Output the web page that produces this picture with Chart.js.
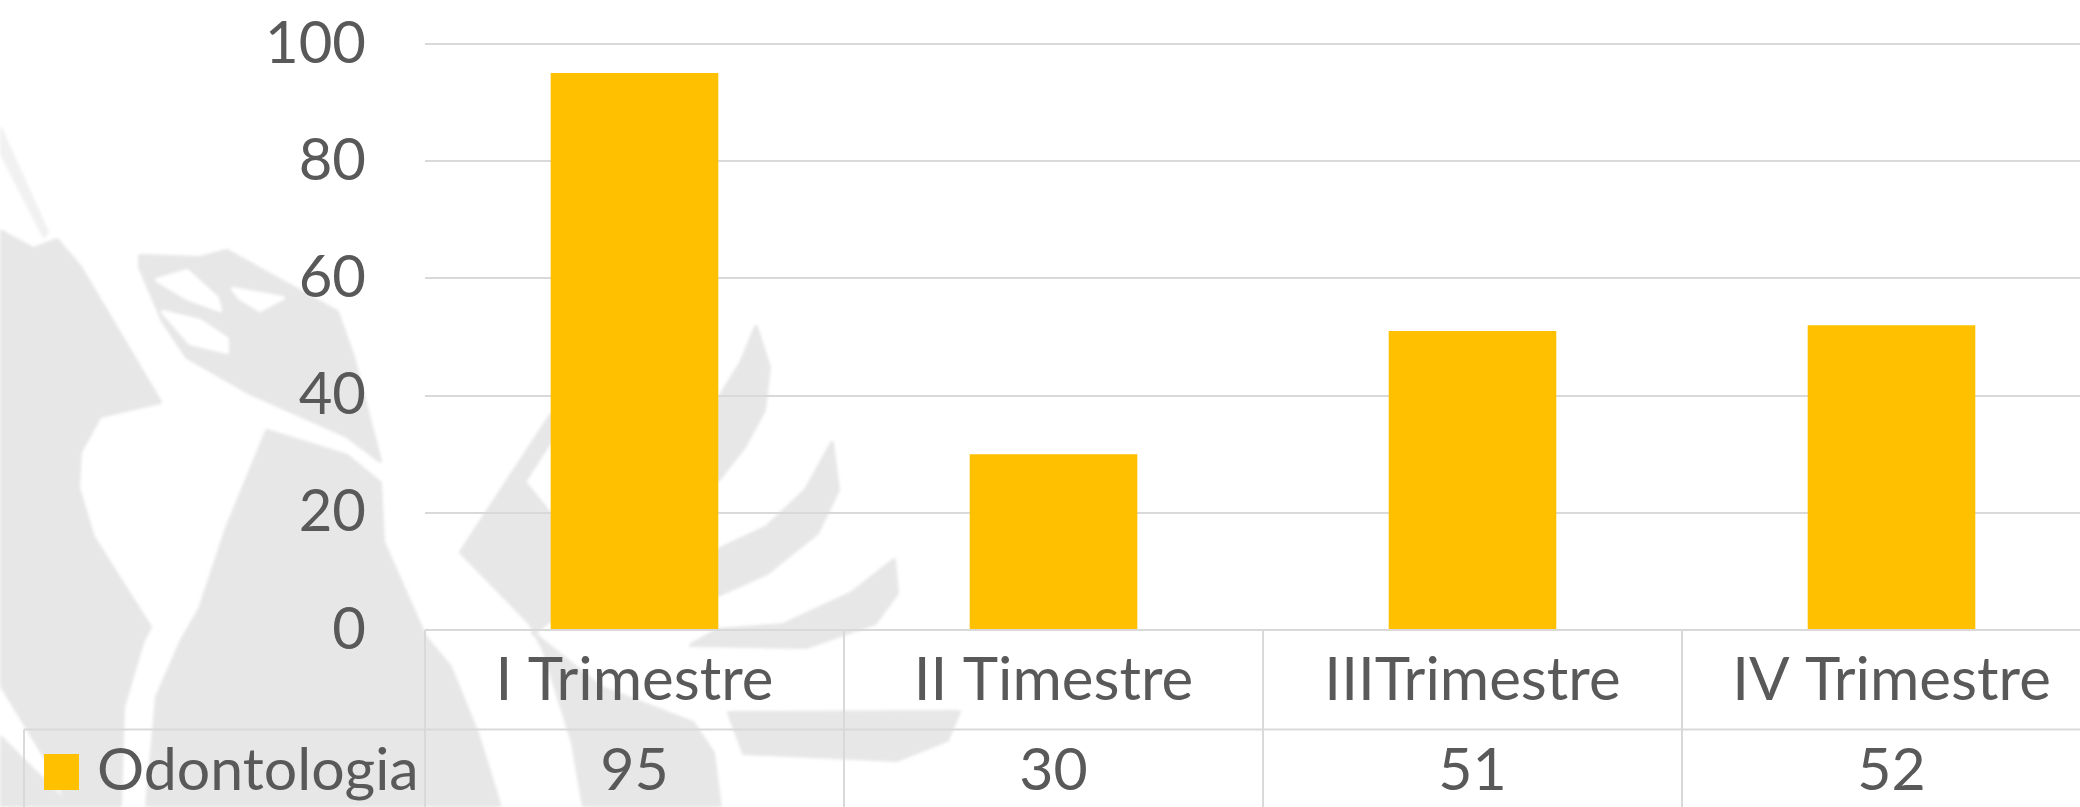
<!DOCTYPE html>
<html>
<head>
<meta charset="utf-8">
<title>Odontologia</title>
<script src="https://cdn.jsdelivr.net/npm/chart.js@4"></script>
<style>
html, body { margin: 0; background: #fff; overflow: hidden; width: 2080px; height: 807px; }
#wm { position: absolute; left: 0; top: 0; filter: blur(1.5px); }
#chart { position: absolute; left: 0; top: -50px; }
</style>
</head>
<body>
<!-- marca de agua de fondo -->
<svg id="wm" width="2080" height="807" fill="#e7e7e7" stroke="#e7e7e7" stroke-width="4" stroke-linejoin="round">
  <path d="M0 231L33 249L57 240L80 267L160 402L100 416L80 452L78 488L93 537L150 627L143 640L123 707L120 807L70 807L47 760L0 683Z"/>
  <path d="M0 737L43 780L70 807L0 807Z"/>
  <path d="M0 128L47 232L44 236L0 150Z" fill="#f1f1f1" stroke="#f1f1f1"/>
  <path d="M140 256L200 258L227 251L337 312L353 357L380 461L347 436L250 393L187 357L163 321L140 267Z"/>
  <path d="M157 280L187 271L217 298L220 310L187 298Z" fill="#fff" stroke="#fff"/>
  <path d="M163 312L200 321L227 339L227 352L190 343Z" fill="#fff" stroke="#fff"/>
  <path d="M233 289L283 298L260 310L240 298Z" fill="#fff" stroke="#fff"/>
  <path d="M267 431L347 456L380 483L383 542L425 637L450 667L477 733L500 807L147 807L157 697L182 640L200 609L227 528Z"/>
  <path d="M551 415L461 552L530 623L544 650L573 743L584 807L720 807L713 753L693 723L600 687L533 633L551 620L551 515L524 482L551 440Z"/>
  <path d="M756 327L769 367L764 410L744 447L718 480L718 400L741 363Z"/>
  <path d="M832 443L838 490L817 533L767 573L718 595L718 550L767 527L806 490Z"/>
  <path d="M894 560L897 593L875 623L806 647L691 645L718 630L783 625L852 593Z"/>
  <path d="M729 713L959 712L947 740L897 760L744 753Z"/>
</svg>
<canvas id="chart" width="2101" height="857"></canvas>
<script>
const categories = ['I Trimestre', 'II Timestre', 'IIITrimestre', 'IV Trimestre'];
const seriesName = 'Odontologia';
const values = [95, 30, 51, 52];
const yTicks = [0, 20, 40, 60, 80, 100];

const fontFamily = 'Lato';
const textColor = '#595959';
const lineColor = '#d9d9d9';
const barColor = '#ffc000';

// tabla de datos debajo del eje x, con la leyenda en la primera columna
const dataTable = {
    id: 'dataTable',
    afterDraw(chart) {
        const ctx = chart.ctx;
        const x = chart.scales.x;
        const y0 = chart.scales.y.getPixelForValue(0);
        const rowY = y0 + 99.5;
        const bottom = chart.height;
        const baseline = y0 + 160;
        const tableLeft = 24;
        ctx.save();
        ctx.strokeStyle = lineColor;
        ctx.lineWidth = 2;
        ctx.beginPath();
        ctx.moveTo(x.left, y0);
        ctx.lineTo(x.right, y0);
        ctx.moveTo(tableLeft, rowY);
        ctx.lineTo(x.right, rowY);
        ctx.moveTo(tableLeft, rowY);
        ctx.lineTo(tableLeft, bottom);
        const colW = (x.right - x.left) / categories.length;
        for (let i = 0; i <= categories.length; i++) {
            ctx.moveTo(x.left + colW * i, y0);
            ctx.lineTo(x.left + colW * i, bottom);
        }
        ctx.stroke();

        ctx.fillStyle = barColor;
        ctx.fillRect(44, y0 + 124, 35, 36);

        ctx.fillStyle = textColor;
        ctx.font = '59px ' + fontFamily;
        ctx.textBaseline = 'alphabetic';
        ctx.textAlign = 'left';
        ctx.fillText(seriesName, 97, baseline);
        ctx.textAlign = 'center';
        values.forEach((v, i) => {
            ctx.fillText(String(v), x.getPixelForValue(i), baseline);
        });
        ctx.restore();
    }
};

new Chart(document.getElementById('chart'), {
    type: 'bar',
    data: {
        labels: categories,
        datasets: [{
            label: seriesName,
            data: values,
            backgroundColor: barColor,
            categoryPercentage: 0.4,
            barPercentage: 1
        }]
    },
    options: {
        responsive: false,
        animation: false,
        plugins: {
            legend: { display: false },
            tooltip: { enabled: false }
        },
        scales: {
            x: {
                position: 'bottom',
                grid: { display: false },
                border: { display: false },
                ticks: {
                    color: textColor,
                    font: { family: fontFamily, size: 60 },
                    padding: 7,
                    maxRotation: 0,
                    autoSkip: false
                },
                afterFit(scale) { scale.height = 177; }
            },
            y: {
                min: 0,
                max: 100,
                grid: { color: lineColor, lineWidth: 2, drawTicks: false },
                border: { display: false },
                ticks: {
                    color: textColor,
                    font: { family: fontFamily, size: 58 },
                    stepSize: 20,
                    padding: 59,
                    callback: v => yTicks.includes(v) ? v : ''
                },
                afterFit(scale) { scale.width = 425; }
            }
        }
    },
    plugins: [dataTable]
});
</script>
</body>
</html>
